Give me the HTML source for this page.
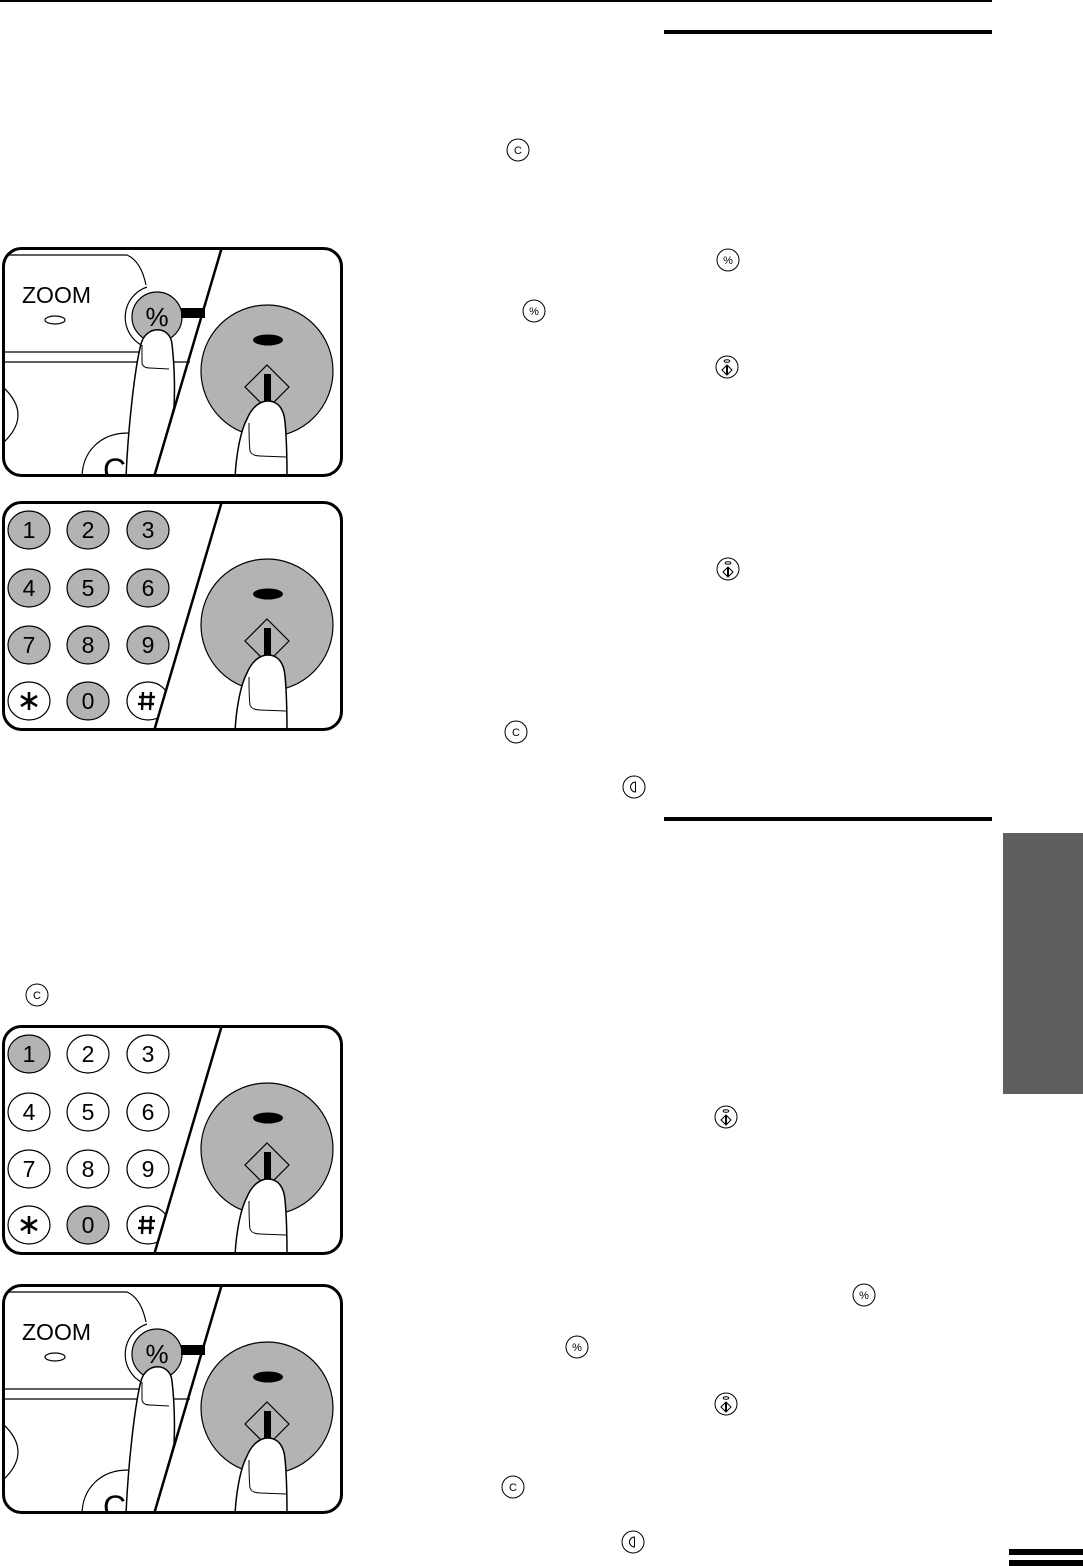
<!DOCTYPE html>
<html><head><meta charset="utf-8"><style>
html,body{margin:0;padding:0;background:#fff;}
body{width:1083px;height:1566px;overflow:hidden;position:relative;}
svg{position:absolute;left:0;top:0;}
text{font-family:"Liberation Sans",Arial,sans-serif;fill:#000;}
</style></head><body>
<svg width="1083" height="1566" viewBox="0 0 1083 1566" xmlns="http://www.w3.org/2000/svg">
<defs>
<clipPath id="pc"><rect x="3" y="1" width="339" height="228" rx="17"/></clipPath>
</defs>
<!-- page rules -->
<rect x="0" y="0" width="992" height="2" fill="#000"/>
<rect x="664" y="30" width="328" height="4" fill="#000"/>
<rect x="664" y="817" width="328" height="4" fill="#000"/>
<rect x="1003" y="833" width="80" height="261" fill="#5f5f5f"/>
<rect x="1009" y="1549" width="74" height="6" fill="#000"/>
<rect x="1009" y="1560" width="74" height="6" fill="#000"/>

<!-- small icons -->
<g fill="none" stroke="#000" stroke-width="1">
<circle cx="518" cy="150" r="11"/><circle cx="728" cy="260" r="11"/><circle cx="534" cy="311" r="11"/>
<circle cx="727" cy="367" r="11"/><circle cx="728" cy="569" r="11"/><circle cx="516" cy="732" r="11"/>
<circle cx="634" cy="787" r="11"/><circle cx="37" cy="995" r="11"/><circle cx="726" cy="1117" r="11"/>
<circle cx="864" cy="1295" r="11"/><circle cx="577" cy="1347" r="11"/><circle cx="726" cy="1404" r="11"/>
<circle cx="513" cy="1487" r="11"/><circle cx="633" cy="1542" r="11"/>
</g>
<g font-size="11" text-anchor="middle">
<text x="518" y="154">C</text><text x="516" y="736">C</text><text x="37" y="999">C</text><text x="513" y="1491">C</text>
<text x="728" y="264">%</text><text x="534" y="315">%</text><text x="864" y="1299">%</text><text x="577" y="1351">%</text>
</g>
<!-- start icons -->
<g fill="none" stroke="#000" stroke-width="1">
<ellipse cx="727" cy="361" rx="2.8" ry="1.3"/><polygon points="727,365 732,370 727,375 722,370"/>
<ellipse cx="728" cy="563" rx="2.8" ry="1.3"/><polygon points="728,567 733,572 728,577 723,572"/>
<ellipse cx="726" cy="1111" rx="2.8" ry="1.3"/><polygon points="726,1115 731,1120 726,1125 721,1120"/>
<ellipse cx="726" cy="1398" rx="2.8" ry="1.3"/><polygon points="726,1402 731,1407 726,1412 721,1407"/>
<path d="M635.5,782 A5,5 0 0 0 635.5,792 Z"/>
<path d="M634.5,1537 A5,5 0 0 0 634.5,1547 Z"/>
</g>
<g fill="#000">
<rect x="726" y="366" width="2" height="8"/><rect x="727" y="568" width="2" height="8"/>
<rect x="725" y="1116" width="2" height="8"/><rect x="725" y="1403" width="2" height="8"/>
</g>

<!-- PANEL 1 : ZOOM -->
<g transform="translate(0,247)">
<g clip-path="url(#pc)">
<rect x="0" y="0" width="345" height="232" fill="#fff"/>
<g fill="none" stroke="#000" stroke-width="1.2">
<path d="M3,8 L127,8 Q141,14 146,38"/>
<path d="M147,40 A32,32 0 0 0 143,99"/>
<path d="M3,105 L140,105"/><path d="M3,115 L190,115"/>
<path d="M3,140 Q33,168 3,196"/>
<path d="M82,231 C82,205 100,186 128,186"/>
<ellipse cx="55" cy="73" rx="10" ry="4"/>
</g>
<text x="22" y="56" font-size="23">ZOOM</text>
<text x="103" y="234" font-size="32">C</text>
<circle cx="157" cy="70" r="25" fill="#b3b3b3" stroke="#000" stroke-width="1.2"/>
<text x="157" y="79" font-size="26" text-anchor="middle">%</text>
<rect x="181" y="61" width="24" height="10" fill="#000"/>
<path d="M126,231 C128,180 135,120 141,97 C146,78 170,78 172,97 C174,115 175,140 174,160 L154,231 Z" fill="#fff" stroke="#000" stroke-width="1.5"/>
<path d="M142,98 L142,116 Q143,121 150,121 L169,122" fill="none" stroke="#000" stroke-width="1"/>
<circle cx="267" cy="124" r="66" fill="#b3b3b3" stroke="#000" stroke-width="1.2"/>
<ellipse cx="268" cy="93" rx="15" ry="5.5" fill="#000"/>
<polygon points="267,118 289,140 267,162 245,140" fill="none" stroke="#000" stroke-width="1.2"/>
<rect x="264" y="127" width="7" height="30" fill="#000"/>
<path d="M235,231 C236,210 240,185 247,172 C252,160 260,154 268,154 C278,154 284,162 285,175 C287,195 287,215 287,231 Z" fill="#fff" stroke="#000" stroke-width="1.5"/>
<path d="M249,176 C249,186 249,196 250,204 Q252,209 260,209 L286,210" fill="none" stroke="#000" stroke-width="1"/>
<line x1="222" y1="0" x2="154" y2="230" stroke="#000" stroke-width="2.5"/>
</g>
<rect x="3.5" y="1.5" width="338" height="227" rx="18" fill="none" stroke="#000" stroke-width="3"/>
</g>

<!-- PANEL 2 : keypad all gray -->
<g transform="translate(0,501)">
<g clip-path="url(#pc)">
<rect x="0" y="0" width="345" height="232" fill="#fff"/>
<g stroke="#000" stroke-width="1.2">
<ellipse cx="29" cy="29" rx="21" ry="19" fill="#b3b3b3"/><ellipse cx="88" cy="29" rx="21" ry="19" fill="#b3b3b3"/><ellipse cx="148" cy="29" rx="21" ry="19" fill="#b3b3b3"/>
<ellipse cx="29" cy="87" rx="21" ry="19" fill="#b3b3b3"/><ellipse cx="88" cy="87" rx="21" ry="19" fill="#b3b3b3"/><ellipse cx="148" cy="87" rx="21" ry="19" fill="#b3b3b3"/>
<ellipse cx="29" cy="144" rx="21" ry="19" fill="#b3b3b3"/><ellipse cx="88" cy="144" rx="21" ry="19" fill="#b3b3b3"/><ellipse cx="148" cy="144" rx="21" ry="19" fill="#b3b3b3"/>
<ellipse cx="29" cy="200" rx="21" ry="19" fill="#fff"/><ellipse cx="88" cy="200" rx="21" ry="19" fill="#b3b3b3"/><ellipse cx="148" cy="200" rx="21" ry="19" fill="#fff"/>
</g>
<g font-size="23" text-anchor="middle">
<text x="29" y="37">1</text><text x="88" y="37">2</text><text x="148" y="37">3</text>
<text x="29" y="95">4</text><text x="88" y="95">5</text><text x="148" y="95">6</text>
<text x="29" y="152">7</text><text x="88" y="152">8</text><text x="148" y="152">9</text>
<text x="88" y="208">0</text>
</g>
<g stroke="#000" stroke-width="2.4"><line x1="143" y1="191" x2="142" y2="209"/><line x1="151" y1="191" x2="150" y2="209"/><line x1="139" y1="196" x2="155" y2="196"/><line x1="138" y1="203" x2="154" y2="203"/></g>
<g stroke="#000" stroke-width="2.6"><line x1="29" y1="191" x2="29" y2="209"/><line x1="21" y1="195" x2="37" y2="205"/><line x1="21" y1="205" x2="37" y2="195"/></g>
<polygon points="222,0 345,0 345,232 154,232" fill="#fff"/>
<circle cx="267" cy="124" r="66" fill="#b3b3b3" stroke="#000" stroke-width="1.2"/>
<ellipse cx="268" cy="93" rx="15" ry="5.5" fill="#000"/>
<polygon points="267,118 289,140 267,162 245,140" fill="none" stroke="#000" stroke-width="1.2"/>
<rect x="264" y="127" width="7" height="30" fill="#000"/>
<path d="M235,231 C236,210 240,185 247,172 C252,160 260,154 268,154 C278,154 284,162 285,175 C287,195 287,215 287,231 Z" fill="#fff" stroke="#000" stroke-width="1.5"/>
<path d="M249,176 C249,186 249,196 250,204 Q252,209 260,209 L286,210" fill="none" stroke="#000" stroke-width="1"/>
<line x1="222" y1="0" x2="154" y2="230" stroke="#000" stroke-width="2.5"/>
</g>
<rect x="3.5" y="1.5" width="338" height="227" rx="18" fill="none" stroke="#000" stroke-width="3"/>
</g>

<!-- PANEL 3 : keypad 1 and 0 gray -->
<g transform="translate(0,1025)">
<g clip-path="url(#pc)">
<rect x="0" y="0" width="345" height="232" fill="#fff"/>
<g stroke="#000" stroke-width="1.2" fill="#fff">
<ellipse cx="29" cy="29" rx="21" ry="19" fill="#b3b3b3"/><ellipse cx="88" cy="29" rx="21" ry="19"/><ellipse cx="148" cy="29" rx="21" ry="19"/>
<ellipse cx="29" cy="87" rx="21" ry="19"/><ellipse cx="88" cy="87" rx="21" ry="19"/><ellipse cx="148" cy="87" rx="21" ry="19"/>
<ellipse cx="29" cy="144" rx="21" ry="19"/><ellipse cx="88" cy="144" rx="21" ry="19"/><ellipse cx="148" cy="144" rx="21" ry="19"/>
<ellipse cx="29" cy="200" rx="21" ry="19"/><ellipse cx="88" cy="200" rx="21" ry="19" fill="#b3b3b3"/><ellipse cx="148" cy="200" rx="21" ry="19"/>
</g>
<g font-size="23" text-anchor="middle">
<text x="29" y="37">1</text><text x="88" y="37">2</text><text x="148" y="37">3</text>
<text x="29" y="95">4</text><text x="88" y="95">5</text><text x="148" y="95">6</text>
<text x="29" y="152">7</text><text x="88" y="152">8</text><text x="148" y="152">9</text>
<text x="88" y="208">0</text>
</g>
<g stroke="#000" stroke-width="2.4"><line x1="143" y1="191" x2="142" y2="209"/><line x1="151" y1="191" x2="150" y2="209"/><line x1="139" y1="196" x2="155" y2="196"/><line x1="138" y1="203" x2="154" y2="203"/></g>
<g stroke="#000" stroke-width="2.6"><line x1="29" y1="191" x2="29" y2="209"/><line x1="21" y1="195" x2="37" y2="205"/><line x1="21" y1="205" x2="37" y2="195"/></g>
<polygon points="222,0 345,0 345,232 154,232" fill="#fff"/>
<circle cx="267" cy="124" r="66" fill="#b3b3b3" stroke="#000" stroke-width="1.2"/>
<ellipse cx="268" cy="93" rx="15" ry="5.5" fill="#000"/>
<polygon points="267,118 289,140 267,162 245,140" fill="none" stroke="#000" stroke-width="1.2"/>
<rect x="264" y="127" width="7" height="30" fill="#000"/>
<path d="M235,231 C236,210 240,185 247,172 C252,160 260,154 268,154 C278,154 284,162 285,175 C287,195 287,215 287,231 Z" fill="#fff" stroke="#000" stroke-width="1.5"/>
<path d="M249,176 C249,186 249,196 250,204 Q252,209 260,209 L286,210" fill="none" stroke="#000" stroke-width="1"/>
<line x1="222" y1="0" x2="154" y2="230" stroke="#000" stroke-width="2.5"/>
</g>
<rect x="3.5" y="1.5" width="338" height="227" rx="18" fill="none" stroke="#000" stroke-width="3"/>
</g>

<!-- PANEL 4 : ZOOM -->
<g transform="translate(0,1284)">
<g clip-path="url(#pc)">
<rect x="0" y="0" width="345" height="232" fill="#fff"/>
<g fill="none" stroke="#000" stroke-width="1.2">
<path d="M3,8 L127,8 Q141,14 146,38"/>
<path d="M147,40 A32,32 0 0 0 143,99"/>
<path d="M3,105 L140,105"/><path d="M3,115 L190,115"/>
<path d="M3,140 Q33,168 3,196"/>
<path d="M82,231 C82,205 100,186 128,186"/>
<ellipse cx="55" cy="73" rx="10" ry="4"/>
</g>
<text x="22" y="56" font-size="23">ZOOM</text>
<text x="103" y="234" font-size="32">C</text>
<circle cx="157" cy="70" r="25" fill="#b3b3b3" stroke="#000" stroke-width="1.2"/>
<text x="157" y="79" font-size="26" text-anchor="middle">%</text>
<rect x="181" y="61" width="24" height="10" fill="#000"/>
<path d="M126,231 C128,180 135,120 141,97 C146,78 170,78 172,97 C174,115 175,140 174,160 L154,231 Z" fill="#fff" stroke="#000" stroke-width="1.5"/>
<path d="M142,98 L142,116 Q143,121 150,121 L169,122" fill="none" stroke="#000" stroke-width="1"/>
<circle cx="267" cy="124" r="66" fill="#b3b3b3" stroke="#000" stroke-width="1.2"/>
<ellipse cx="268" cy="93" rx="15" ry="5.5" fill="#000"/>
<polygon points="267,118 289,140 267,162 245,140" fill="none" stroke="#000" stroke-width="1.2"/>
<rect x="264" y="127" width="7" height="30" fill="#000"/>
<path d="M235,231 C236,210 240,185 247,172 C252,160 260,154 268,154 C278,154 284,162 285,175 C287,195 287,215 287,231 Z" fill="#fff" stroke="#000" stroke-width="1.5"/>
<path d="M249,176 C249,186 249,196 250,204 Q252,209 260,209 L286,210" fill="none" stroke="#000" stroke-width="1"/>
<line x1="222" y1="0" x2="154" y2="230" stroke="#000" stroke-width="2.5"/>
</g>
<rect x="3.5" y="1.5" width="338" height="227" rx="18" fill="none" stroke="#000" stroke-width="3"/>
</g>
</svg>
</body></html>
